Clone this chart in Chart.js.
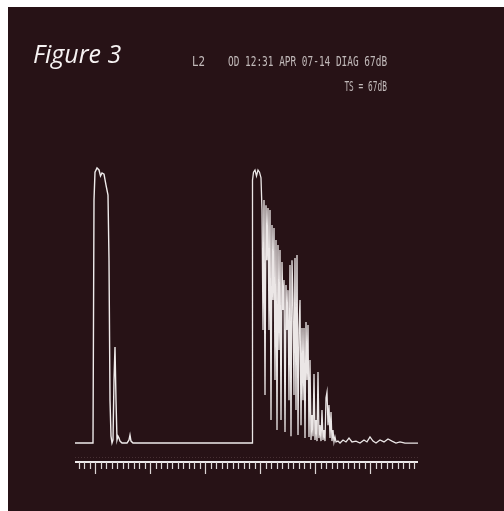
<!DOCTYPE html>
<html>
<head>
<meta charset="utf-8">
<script src="https://cdn.jsdelivr.net/npm/chart.js@4/dist/chart.umd.min.js"></script>
<style>
  html, body { margin: 0; padding: 0; background: #ffffff; }
  #wrap { position: relative; width: 504px; height: 511px; overflow: hidden; }
  canvas { position: absolute; left: 0; top: 0; }
  .txt { position: absolute; white-space: pre; }
  #fig { left: 33px; top: 41px; font: italic 25px/25px "Open Sans", sans-serif; color: #f6f2f2; }
  .mono { font: 14px/14px "DejaVu Sans Mono", monospace; color: #c2baba; }
  #l2 { left: 192px; top: 54px; transform-origin: left top; transform: scaleX(0.77); }
  #hdr { left: 228px; top: 54px; transform-origin: left top; transform: scaleX(0.674); }
  #ts { right: 117px; top: 79px; transform-origin: right top; transform: scaleX(0.56); }
</style>
</head>
<body>
<div id="wrap">
  <canvas id="c" width="504" height="511"></canvas>
  <div class="txt" id="fig">Figure 3</div>
  <div class="txt mono" id="l2">L2</div>
  <div class="txt mono" id="hdr">OD 12:31 APR 07-14 DIAG 67dB</div>
  <div class="txt mono" id="ts">TS = 67dB</div>
</div>
<script>
// x: sample index, y: echo amplitude (%)
const pulseX = [0, 18, 19, 20, 22, 24, 25.5, 27, 29, 31, 33, 34, 35, 36, 37, 38, 39, 40, 41, 42, 43, 44, 45, 47, 52, 54, 55, 56, 58, 177];
const pulseY = [0, 0, 88.4, 98.5, 100, 99.3, 97.1, 98.2, 97.8, 93.8, 90.2, 66.5, 15.6, 2.5, 0, 1.1, 22.9, 34.9, 15.6, 1.1, 2.5, 1.8, 0.7, 0, 0, 1.1, 2.9, 0.7, 0, 0];

const echoX = [177, 177.5, 178.5, 180, 181.5, 183, 184.5, 186, 187, 188, 189, 190, 191, 192, 193, 194, 195, 196, 197, 198, 199, 200,
  201, 202, 203, 204, 205, 206, 207, 208, 209, 210, 211, 212, 213, 214, 215, 216, 217, 218, 219, 220,
  221, 222, 223, 224, 225, 226, 227, 228, 229, 230, 231, 232, 233, 234, 235, 236, 237, 238, 239, 240,
  241, 242, 243, 244, 245, 246, 247, 248, 249, 250, 251, 252, 253, 254, 255, 256, 257, 258, 259, 260,
  261, 263, 265, 268, 271, 274, 277, 281, 285, 289, 292, 295, 298, 301, 305, 309, 313, 317, 321, 325, 330, 335, 341, 343, 343.5];
const echoY = [0, 95.6, 98.5, 99.3, 97.1, 99.3, 98.5, 96.4, 84.7, 41.1, 88.4, 17.5, 86.5, 66.5, 85.5, 41.1, 84.7, 8.4, 79.3, 52, 78.2, 22.9,
  73.8, 4.7, 72, 33.8, 70.2, 8.4, 65.8, 48.4, 59.3, 4, 57.5, 41.1, 55.6, 15.6, 64.7, 2.5, 66.5, 52, 17.5, 67.3,
  12, 68.4, 2.9, 41.1, 52, 6.5, 41.8, 15.6, 41.8, 1.8, 44, 22.9, 42.9, 2.2, 30.2, 1.1, 10.2, 2.5, 25.1, 1.1,
  8.4, 0.7, 25.8, 1.8, 6.5, 0.7, 12, 1.1, 4.7, 0.7, 16.4, 18.5, 6.5, 13.8, 1.8, 11.3, 0.7, 4.7, 0.4, 2.2,
  0.4, 0.7, 0, 1.1, 0.4, 1.8, 0.4, 0.7, 0, 1.1, 0.4, 2.2, 0.7, 0, 1.1, 0.4, 1.5, 0.7, 0, 0.4, 0, 0, 0, 0, 2.9];

// scale ticks (sample index)
const minorStep = 5.5;
const majorStep = 55;
const firstMajor = 20;

const xMin = 0, xMax = 343;
const yMin = -6.9, yMax = 110.2;

const toPoints = (xs, ys) => xs.map((x, i) => ({ x: x, y: ys[i] }));

const bgPlugin = {
  id: 'bg',
  beforeDraw(chart) {
    const ctx = chart.ctx;
    ctx.save();
    ctx.fillStyle = '#ffffff';
    ctx.fillRect(0, 0, chart.width, chart.height);
    ctx.fillStyle = '#271216';
    ctx.fillRect(8, 7, chart.width - 8, chart.height - 7);
    ctx.restore();
  }
};

const rulerPlugin = {
  id: 'ruler',
  afterDatasetsDraw(chart) {
    const ctx = chart.ctx;
    const xs = chart.scales.x, ys = chart.scales.y;
    const yLine = chart.chartArea.bottom;
    const left = xs.getPixelForValue(xMin), right = xs.getPixelForValue(xMax);
    ctx.save();
    // faint dotted guide
    ctx.strokeStyle = 'rgba(200,170,175,0.2)';
    ctx.lineWidth = 1;
    ctx.setLineDash([1, 2]);
    const yDot = Math.round(ys.getPixelForValue(-5)) + 0.5;
    ctx.beginPath(); ctx.moveTo(left, yDot); ctx.lineTo(right, yDot); ctx.stroke();
    ctx.setLineDash([]);
    // main ruler line
    ctx.strokeStyle = '#eeeaea';
    ctx.lineWidth = 2;
    ctx.beginPath(); ctx.moveTo(left, yLine); ctx.lineTo(right, yLine); ctx.stroke();
    // ticks
    ctx.lineWidth = 1.2;
    ctx.strokeStyle = '#dcd6d6';
    let k = Math.ceil((xMin - firstMajor) / minorStep);
    for (; firstMajor + k * minorStep <= xMax; k++) {
      const v = firstMajor + k * minorStep;
      const px = Math.round(xs.getPixelForValue(v)) + 0.5;
      const isMajor = Math.abs(((v - firstMajor) / majorStep) - Math.round((v - firstMajor) / majorStep)) < 1e-6;
      ctx.beginPath();
      ctx.moveTo(px, yLine);
      ctx.lineTo(px, yLine + (isMajor ? 12 : 7));
      ctx.stroke();
    }
    ctx.restore();
  }
};

new Chart(document.getElementById('c'), {
  type: 'line',
  data: {
    datasets: [
      { data: toPoints(pulseX, pulseY), borderColor: '#efebeb', borderWidth: 1.4, pointRadius: 0, tension: 0, fill: false },
      { data: toPoints(echoX, echoY), borderColor: '#ebe6e6', borderWidth: 1.3, pointRadius: 0, tension: 0, fill: false }
    ]
  },
  options: {
    responsive: false,
    animation: false,
    events: [],
    layout: { padding: { left: 75, right: 86, top: 140, bottom: 49 } },
    plugins: { legend: { display: false }, tooltip: { enabled: false }, title: { display: false } },
    scales: {
      x: { type: 'linear', min: xMin, max: xMax, display: false },
      y: { type: 'linear', min: yMin, max: yMax, display: false }
    }
  },
  plugins: [bgPlugin, rulerPlugin]
});
</script>
</body>
</html>
